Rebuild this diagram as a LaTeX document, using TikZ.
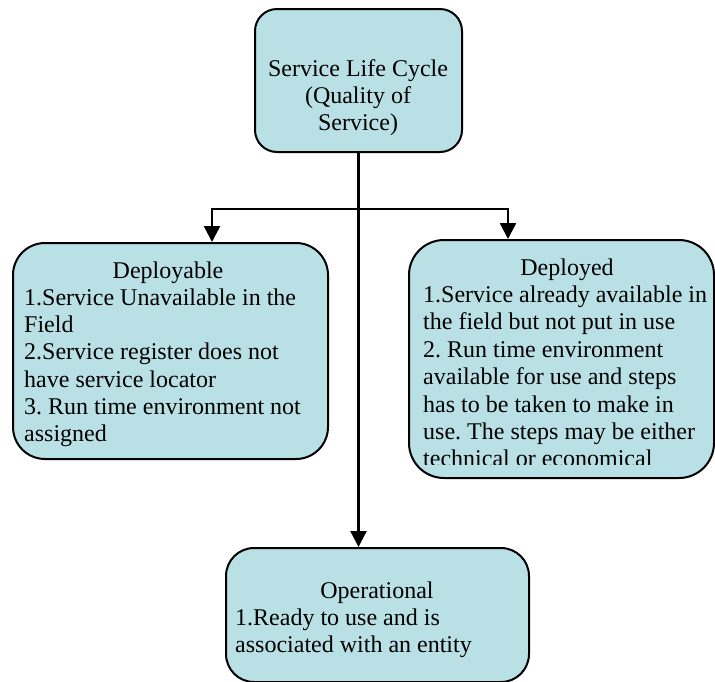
\documentclass[tikz,border=0pt]{standalone}
\usepackage{fontspec}
\setmainfont{Liberation Serif}
\usetikzlibrary{arrows.meta}
\definecolor{boxfill}{RGB}{185,224,228}
\frenchspacing
\tikzset{
  stagebox/.style={draw=black, line width=2pt, fill=boxfill, rectangle, inner sep=0pt},
  txt/.style={inner sep=0pt, font=\fontsize{24}{27.5}\selectfont},
  link/.style={line width=2.4pt, -{Triangle[width=16pt,length=16pt]}},
  dlink/.style={line width=2.4pt, {Triangle[width=16pt,length=16pt]}-{Triangle[width=16pt,length=16pt]}}
}
\begin{document}
\begin{tikzpicture}[x=1pt,y=-1pt]
\useasboundingbox (0,0) rectangle (715,681);

% stage boxes
\node[stagebox, rounded corners=22pt, minimum width=207pt, minimum height=143pt] (top) at (358.5,80.5) {};
\node[stagebox, rounded corners=32pt, minimum width=315pt, minimum height=216pt] (dpl) at (170.5,351) {};
\node[stagebox, rounded corners=35pt, minimum width=305pt, minimum height=238pt] (dpd) at (561.5,359) {};
\node[stagebox, rounded corners=28pt, minimum width=303pt, minimum height=134pt] (op) at (377.5,615) {};

% top box text
\node[txt, anchor=base] (t1) at (358,76) {Service Life Cycle};
\node[txt, anchor=base] (t2) at (358,103) {(Quality of};
\node[txt, anchor=base] (t3) at (358,130) {Service)};

% Deployable
\node[txt, anchor=base] (dplh) at (168,278) {Deployable};
\foreach \t [count=\i] in {1.Service Unavailable in the, Field, 2.Service register does not, have service locator, 3. Run time environment not, assigned}
  \node[txt, anchor=base west] (dpl-\i) at (24,{278+27.3*\i}) {\t};

% Deployed (text runs past the lower edge and is cut off)
\begin{scope}
  \clip (409,240) rectangle (714,464);
  \node[txt, anchor=base] (dpdh) at (567,275) {Deployed};
  \foreach \t [count=\i] in {1.Service already available in, the field but not put in use, 2. Run time environment, available for use and steps, has to be taken to make in, use. The steps may be either, technical or economical}
    \node[txt, anchor=base west] (dpd-\i) at (423,{275+27.4*\i}) {\t};
\end{scope}

% Operational
\node[txt, anchor=base] (oph) at (377,598) {Operational};
\node[txt, anchor=base west] (op-1) at (235,625) {1.Ready to use and is};
\node[txt, anchor=base west] (op-2) at (235,652) {associated with an entity};

% connectors
\coordinate (jl) at (212,209);
\coordinate (jr) at (508,209);
\draw[link] (top.south) -- (op.north -| top.south);
\draw[dlink] (jl |- dpl.north) -- (jl) -- (jr) -- (jr |- dpd.north);
\end{tikzpicture}
\end{document}
